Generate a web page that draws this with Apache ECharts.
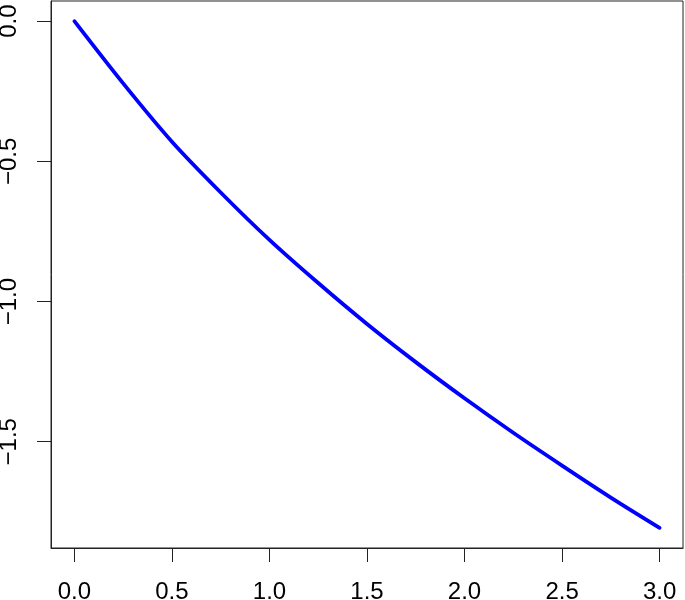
<!DOCTYPE html>
<html>
<head>
<meta charset="utf-8">
<script src="https://cdn.jsdelivr.net/npm/echarts@6/dist/echarts.min.js"></script>
<style>
  html, body { margin: 0; padding: 0; background: #fff; }
</style>
</head>
<body>
<div id="main" style="width: 685px; height: 600px"></div>
<script>
// values
const xValues = [0, 0.25, 0.5, 0.75, 1.0, 1.25, 1.5, 1.75, 2.0, 2.25, 2.5, 2.75, 3.0];
const yValues = [0, -0.222, -0.430, -0.611, -0.780, -0.934, -1.080, -1.216, -1.345, -1.468, -1.585, -1.699, -1.807];
const xTicks = [0, 0.5, 1.0, 1.5, 2.0, 2.5, 3.0];
const yTicks = [0, -0.5, -1.0, -1.5];

const fmt = v => (v < 0 ? '\u2212' : '') + Math.abs(v).toFixed(1);

const chart = echarts.init(document.getElementById('main'));
chart.setOption({
  animation: false,
  grid: {
    left: 51, right: 2, top: 1, bottom: 52,
    containLabel: false,
    outerBoundsMode: 'none',
    show: true,
    borderColor: '#222',
    borderWidth: 1
  },
  xAxis: {
    type: 'value',
    min: -0.12,
    max: 3.12,
    splitLine: { show: false },
    axisLine: { show: true, onZero: false, lineStyle: { color: '#222', width: 1 } },
    axisTick: { show: true, customValues: xTicks, length: 14, lineStyle: { color: '#222' } },
    axisLabel: {
      customValues: xTicks,
      formatter: fmt,
      margin: 32,
      color: '#000',
      fontSize: 24,
      fontFamily: 'Liberation Sans, Arial, sans-serif'
    }
  },
  yAxis: {
    type: 'value',
    min: -1.879,
    max: 0.072,
    splitLine: { show: false },
    axisLine: { show: true, onZero: false, lineStyle: { color: '#222', width: 1 } },
    axisTick: { show: true, customValues: yTicks, length: 14, lineStyle: { color: '#222' } },
    axisLabel: {
      customValues: yTicks,
      formatter: fmt,
      rotate: 90,
      margin: 30,
      color: '#000',
      fontSize: 24,
      fontFamily: 'Liberation Sans, Arial, sans-serif'
    }
  },
  series: [{
    type: 'line',
    data: xValues.map((x, i) => [x, yValues[i]]),
    smooth: 0.3,
    showSymbol: false,
    lineStyle: { color: '#0000ff', width: 3.8, cap: 'round' }
  }]
});
</script>
</body>
</html>
